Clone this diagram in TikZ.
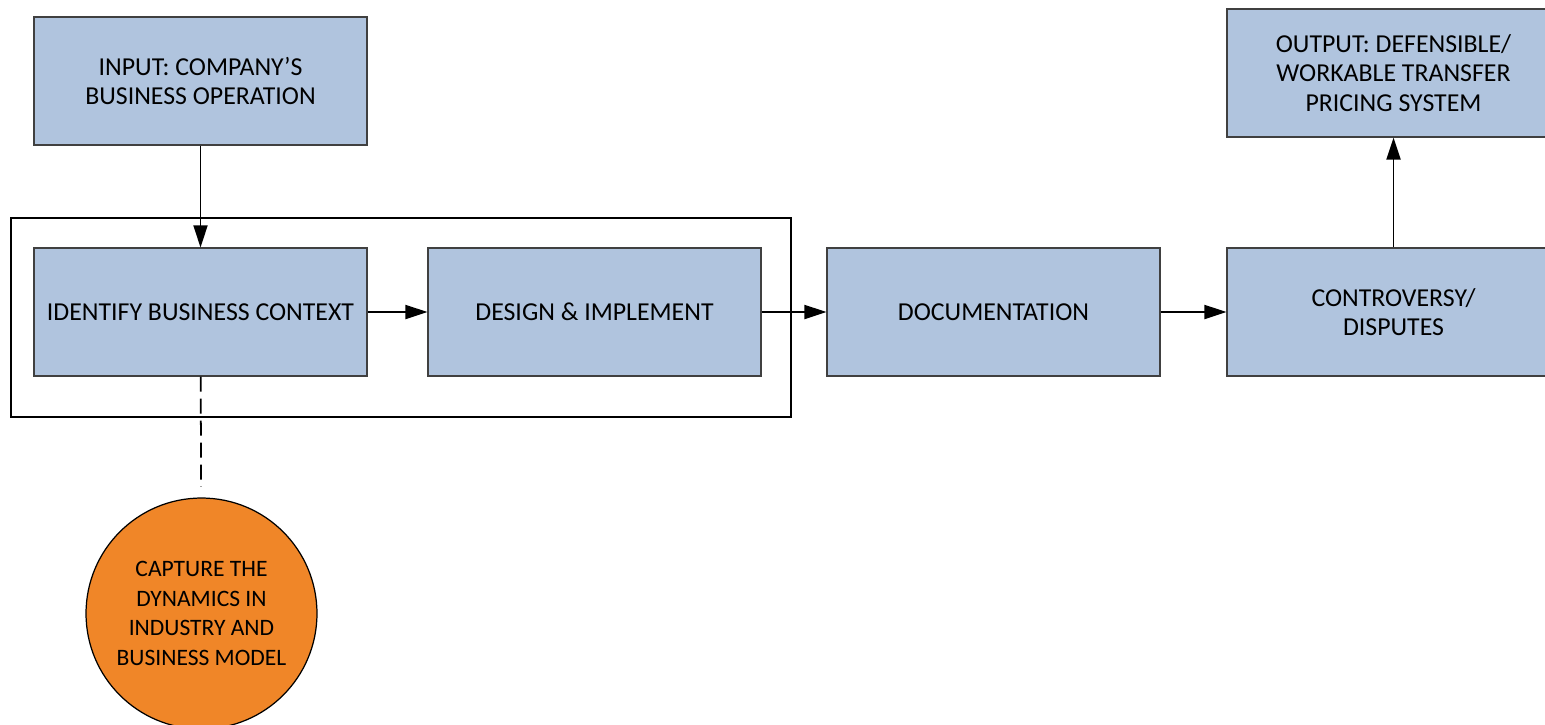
\documentclass[tikz,border=0pt]{standalone}
\usepackage{fontspec}
\setmainfont{Carlito}
\usetikzlibrary{arrows.meta}
\definecolor{stageblue}{RGB}{176,196,222}
\definecolor{circorange}{RGB}{240,134,40}
\begin{document}
\begin{tikzpicture}[x=0.02cm,y=-0.02cm,
    stage/.style={draw=black!75,fill=stageblue,line width=0.7pt,minimum width=6.66cm,minimum height=2.56cm,align=center,inner sep=0pt,font=\fontsize{14.7}{16.9}\selectfont},
    idea/.style={circle,draw=black,fill=circorange,line width=0.7pt,minimum size=4.62cm,align=center,inner sep=0pt,font=\fontsize{13.4}{16.9}\selectfont},
    flow/.style={line width=1.1pt,-{Triangle[length=0.44cm,width=0.28cm]}}]
    \useasboundingbox (0,0) rectangle (1545,724);
    % boxes
    \node [stage] (input) at (200.5,81) {INPUT: COMPANY’S\\BUSINESS OPERATION};
    \node [stage] (identify) at (200.5,312) {IDENTIFY BUSINESS CONTEXT};
    \node [stage] (design) at (594.5,312) {DESIGN \& IMPLEMENT};
    \node [stage] (docu) at (993.5,312) {DOCUMENTATION};
    \node [stage] (dispute) at (1393.5,312) {CONTROVERSY/\\DISPUTES};
    \node [stage] (output) at (1393.5,73) {OUTPUT: DEFENSIBLE/\\WORKABLE TRANSFER\\PRICING SYSTEM};
    \node [idea] (capture) at (201.5,613.5) {CAPTURE THE\\DYNAMICS IN\\INDUSTRY AND\\BUSINESS MODEL};
    % frame round the first two steps
    \draw [line width=1.1pt] (11,218) rectangle (791,417);
    % connectors
    \draw [flow] (input) -- (identify);
    \draw [flow] (identify) -- (design);
    \draw [flow] (design) -- (docu);
    \draw [flow] (docu) -- (dispute);
    \draw [flow] (dispute) -- (output);
    \draw [line width=1pt,dash pattern=on 0.3cm off 0.14cm,shorten >=6pt] (identify) -- (capture);
\end{tikzpicture}
\end{document}
